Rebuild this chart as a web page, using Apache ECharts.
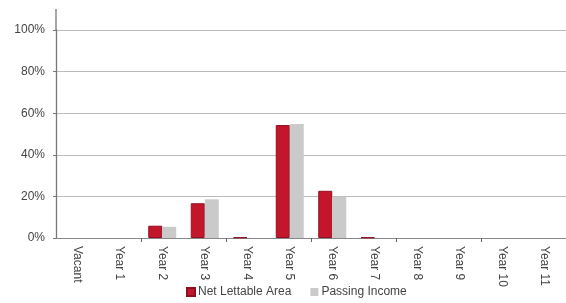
<!doctype html>
<html>
<head>
<meta charset="UTF-8">
<title>Lease expiry profile</title>
<script src="https://cdn.jsdelivr.net/npm/echarts@6/dist/echarts.min.js"></script>
<style>
  html, body { margin: 0; padding: 0; background: #fff; }
  #main { width: 566px; height: 303px; }
</style>
</head>
<body>
<div id="main"></div>
<script>
// categories and values (percent)
var categories = ['Vacant', 'Year 1', 'Year 2', 'Year 3', 'Year 4', 'Year 5', 'Year 6', 'Year 7', 'Year 8', 'Year 9', 'Year 10', 'Year 11'];
var netLettableArea = [0, 0, 5.9, 16.7, 0.3, 54.3, 22.7, 0.3, 0, 0, 0, 0];
var passingIncome = [0, 0, 5.4, 18.6, 0, 54.8, 19.9, 0, 0, 0, 0, 0];
var yTicks = [0, 20, 40, 60, 80, 100];

// empty slots are not drawn at all
function barData(arr) {
    return arr.map(function (v) { return v === 0 ? '-' : v; });
}

var myChart = echarts.init(document.getElementById('main'));
var font = 'Liberation Sans, Arial, sans-serif';

var option = {
    animation: false,
    textStyle: { fontFamily: font },
    grid: { left: 56, right: 0, top: 30, bottom: 65 },
    legend: {
        bottom: 0,
        left: 181,
        itemWidth: 8,
        itemHeight: 8,
        itemGap: 19,
        icon: 'rect',
        textStyle: { fontSize: 12, color: '#444', fontFamily: font, padding: [0, 0, 0, -2] },
        data: ['Net Lettable Area', 'Passing Income']
    },
    xAxis: {
        type: 'category',
        data: categories,
        axisLine: { lineStyle: { color: '#888', width: 1 } },
        axisTick: {
            show: true,
            length: 4,
            interval: function (index) { return index > 0 && index % 2 === 0; },
            lineStyle: { color: '#666' }
        },
        axisLabel: { rotate: -90, fontSize: 12, color: '#444', margin: 8, interval: 0 }
    },
    yAxis: {
        type: 'value',
        min: yTicks[0],
        max: yTicks[yTicks.length - 1],
        interval: 20,
        axisLine: { show: true, lineStyle: { color: '#777', width: 1.3 } },
        axisTick: { show: true, length: 3, lineStyle: { color: '#777' } },
        splitLine: { lineStyle: { color: '#bbb', width: 1 } },
        axisLabel: { formatter: '{value}%', fontSize: 12, color: '#444', margin: 11 }
    },
    graphic: [{
        type: 'line',
        shape: { x1: 56, y1: 9, x2: 56, y2: 30 },
        style: { stroke: '#777', lineWidth: 1.3 }
    }],
    series: [
        {
            name: 'Net Lettable Area',
            type: 'bar',
            barWidth: 14,
            barGap: '0%',
            data: barData(netLettableArea),
            itemStyle: { color: '#c4162b', borderColor: '#8e1020', borderWidth: 1 }
        },
        {
            name: 'Passing Income',
            type: 'bar',
            barWidth: 14,
            data: barData(passingIncome),
            itemStyle: { color: '#cacaca' }
        }
    ]
};
myChart.setOption(option);
</script>
</body>
</html>
